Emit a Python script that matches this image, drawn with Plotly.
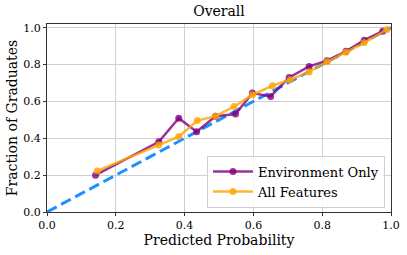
import plotly.graph_objects as go

env_x = [0.141, 0.325, 0.383, 0.435, 0.490, 0.548, 0.597, 0.650, 0.704, 0.762, 0.814, 0.869, 0.922, 0.976]
env_y = [0.200, 0.381, 0.509, 0.436, 0.520, 0.532, 0.645, 0.627, 0.730, 0.790, 0.821, 0.872, 0.932, 0.981]
all_x = [0.146, 0.325, 0.383, 0.437, 0.490, 0.544, 0.597, 0.655, 0.707, 0.762, 0.814, 0.869, 0.922, 0.988]
all_y = [0.223, 0.363, 0.409, 0.496, 0.520, 0.572, 0.636, 0.685, 0.718, 0.760, 0.815, 0.867, 0.918, 0.990]
diag = [0.0, 1.0]
ticks = [0.0, 0.2, 0.4, 0.6, 0.8, 1.0]
tick_labels = ["0.0", "0.2", "0.4", "0.6", "0.8", "1.0"]

FONT = "DejaVu Serif"

fig = go.Figure()
fig.add_trace(go.Scatter(x=diag, y=diag, mode="lines", showlegend=False,
                         line=dict(color="#1E90FF", width=3, dash="11px,5px")))
fig.add_trace(go.Scatter(x=env_x, y=env_y, mode="lines+markers", name="Environment Only",
                         line=dict(color="rgba(128,0,128,0.8)", width=2.5),
                         marker=dict(color="rgba(128,0,128,0.8)", size=7)))
fig.add_trace(go.Scatter(x=all_x, y=all_y, mode="lines+markers", name="All Features",
                         line=dict(color="rgba(255,165,0,0.8)", width=2.5),
                         marker=dict(color="rgba(255,165,0,0.8)", size=7)))

axis_common = dict(showgrid=True, gridcolor="#d0d0d0", gridwidth=1,
                   showline=True, linecolor="#333333", linewidth=1, mirror=True,
                   ticks="outside", ticklen=3, tickcolor="#333333",
                   tickvals=ticks, ticktext=tick_labels, zeroline=False, automargin=False,
                   tickfont=dict(family=FONT, size=11, color="black"))

fig.update_layout(
    width=407, height=255,
    margin=dict(l=47, r=16, t=24, b=43),
    plot_bgcolor="white", paper_bgcolor="white",
    font=dict(family=FONT, color="black"),
    title=dict(text="Overall", x=0.5, xref="paper", xanchor="center", y=0.955, yanchor="middle",
               font=dict(family=FONT, size=14, color="black")),
    xaxis=dict(range=[0, 1], title=dict(text="Predicted Probability", standoff=2,
                                        font=dict(family=FONT, size=14)), **axis_common),
    yaxis=dict(range=[0, 1.02], title=dict(text="Fraction of Graduates", standoff=2,
                                           font=dict(family=FONT, size=14)), **axis_common),
    legend=dict(x=0.465, y=0.30, xanchor="left", yanchor="top",
                bgcolor="rgba(255,255,255,0.85)", bordercolor="#d0d0d0", borderwidth=1,
                font=dict(family=FONT, size=13, color="black"), itemwidth=40,
                tracegroupgap=0),
)
fig.write_html("out.html", config={"displayModeBar": False},
               post_script="document.body.style.margin='0';")
